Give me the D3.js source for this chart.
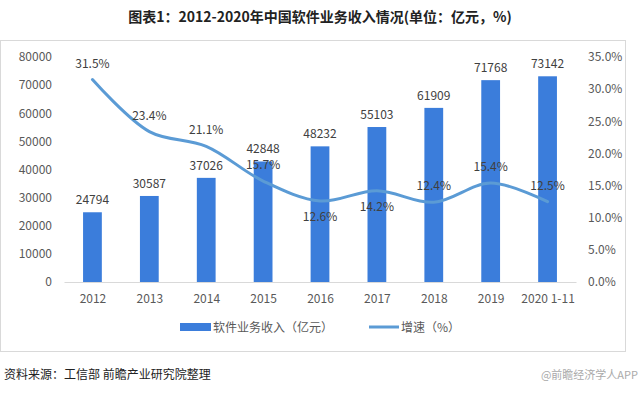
<!DOCTYPE html>
<html>
<head>
<meta charset="utf-8">
<script src="https://cdn.jsdelivr.net/npm/d3@7"></script>
<style>
  body { margin: 0; background: #fff; }
  text { font-family: "Noto Sans CJK SC", "Noto Sans", sans-serif; }
</style>
</head>
<body>
<div id="chart"></div>
<script>
// Data
const years = ["2012", "2013", "2014", "2015", "2016", "2017", "2018", "2019", "2020 1-11"];
const revenue = [24794, 30587, 37026, 42848, 48232, 55103, 61909, 71768, 73142];
const growth = [31.5, 23.4, 21.1, 15.7, 12.6, 14.2, 12.4, 15.4, 12.5];
const growthLabelBelow = [false, false, false, false, true, true, false, false, false];
const leftTicks = [0, 10000, 20000, 30000, 40000, 50000, 60000, 70000, 80000];
const rightTicks = [0, 5, 10, 15, 20, 25, 30, 35];

const W = 640, H = 393;
const margin = { top: 57, right: 64, bottom: 111, left: 64 };
const width = W - margin.left - margin.right;
const height = H - margin.top - margin.bottom;

const barColor = "#3b7ddb";
const lineColor = "#5b9bd5";
const textColor = "#595959";

const svgRoot = d3.select("#chart").append("svg")
    .attr("width", W)
    .attr("height", H);

// Title
svgRoot.append("text")
    .attr("x", 320)
    .attr("y", 22)
    .attr("text-anchor", "middle")
    .style("font-size", "14px")
    .style("font-weight", "bold")
    .style("fill", "#222")
    .text("图表1：2012-2020年中国软件业务收入情况(单位：亿元，%)");

// Chart border
svgRoot.append("rect")
    .attr("x", 0.5).attr("y", 40.5)
    .attr("width", 625).attr("height", 311)
    .style("fill", "none")
    .style("stroke", "#d9d9d9");

const svg = svgRoot.append("g")
    .attr("transform", `translate(${margin.left},${margin.top})`);

// Scales
const x = d3.scaleBand().domain(years).range([0, width]).paddingInner(0.67).paddingOuter(0.335);
const xc = d3.scalePoint().domain(years).range([0, width]).padding(0.5);
const yL = d3.scaleLinear().domain([0, 80000]).range([height, 0]);
const yR = d3.scaleLinear().domain([0, 35]).range([height, 0]);

// Left axis
svg.append("g")
    .call(d3.axisLeft(yL).tickValues(leftTicks).tickSize(0).tickPadding(12).tickFormat(d => d))
    .call(g => g.select(".domain").remove())
    .selectAll("text")
    .style("font-size", "12px")
    .style("fill", textColor);

// Right axis
svg.append("g")
    .attr("transform", `translate(${width},0)`)
    .call(d3.axisRight(yR).tickValues(rightTicks).tickSize(0).tickPadding(12).tickFormat(d => d.toFixed(1) + "%"))
    .call(g => g.select(".domain").remove())
    .selectAll("text")
    .style("font-size", "12px")
    .style("fill", textColor);

// Bottom axis
svg.append("g")
    .attr("transform", `translate(0,${height})`)
    .call(d3.axisBottom(xc).tickSize(0).tickPadding(12))
    .call(g => g.select(".domain").style("stroke", "#d9d9d9"))
    .selectAll("text")
    .style("font-size", "12px")
    .style("fill", textColor);

// Bars
svg.selectAll(".bar")
    .data(revenue)
    .enter().append("rect")
    .attr("class", "bar")
    .attr("x", (d, i) => x(years[i]))
    .attr("y", d => yL(d))
    .attr("width", x.bandwidth())
    .attr("height", d => height - yL(d))
    .style("fill", barColor);

// Bar labels
svg.selectAll(".bar-label")
    .data(revenue)
    .enter().append("text")
    .attr("class", "bar-label")
    .attr("x", (d, i) => xc(years[i]))
    .attr("y", d => yL(d) - 8)
    .attr("text-anchor", "middle")
    .style("font-size", "12px")
    .style("fill", "#404040")
    .text(d => d);

// Growth line
const line = d3.line()
    .x((d, i) => xc(years[i]))
    .y(d => yR(d))
    .curve(d3.curveCatmullRom.alpha(0.5));

svg.append("path")
    .datum(growth)
    .attr("d", line)
    .style("fill", "none")
    .style("stroke", lineColor)
    .style("stroke-width", 3)
    .style("stroke-linecap", "round");

// Growth labels
svg.selectAll(".line-label")
    .data(growth)
    .enter().append("text")
    .attr("class", "line-label")
    .attr("x", (d, i) => xc(years[i]))
    .attr("y", (d, i) => growthLabelBelow[i] ? yR(d) + 20 : yR(d) - 12)
    .attr("text-anchor", "middle")
    .style("font-size", "12px")
    .style("fill", "#404040")
    .text(d => d.toFixed(1) + "%");

// Legend
const legend = svgRoot.append("g").attr("transform", "translate(0,327)");
legend.append("rect")
    .attr("x", 180).attr("y", -4)
    .attr("width", 31).attr("height", 8)
    .style("fill", barColor);
legend.append("text")
    .attr("x", 213).attr("y", 5)
    .style("font-size", "12px")
    .style("fill", textColor)
    .text("软件业务收入（亿元）");
legend.append("line")
    .attr("x1", 369).attr("x2", 399)
    .attr("y1", 0).attr("y2", 0)
    .style("stroke", lineColor)
    .style("stroke-width", 3);
legend.append("text")
    .attr("x", 401).attr("y", 5)
    .style("font-size", "12px")
    .style("fill", textColor)
    .text("增速（%）");

// Footer
svgRoot.append("text")
    .attr("x", 4).attr("y", 379)
    .style("font-size", "12px")
    .style("fill", "#222")
    .text("资料来源：工信部 前瞻产业研究院整理");

svgRoot.append("text")
    .attr("x", 638).attr("y", 379)
    .attr("text-anchor", "end")
    .style("font-size", "11px")
    .style("fill", "#aaa")
    .text("@前瞻经济学人APP");
</script>
</body>
</html>
